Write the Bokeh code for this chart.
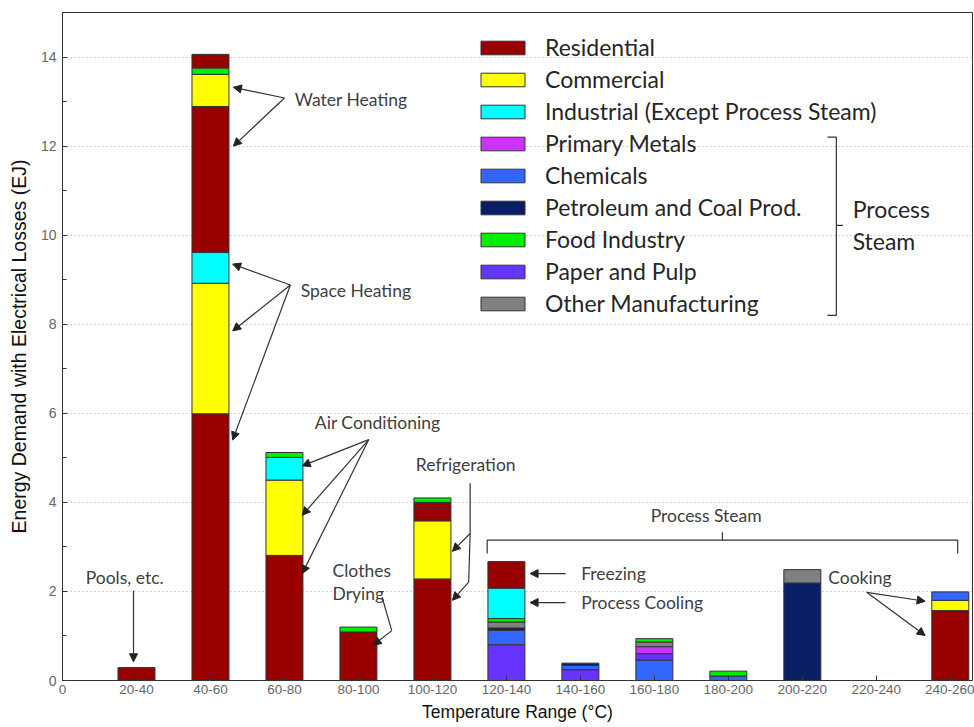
from bokeh.plotting import figure
from bokeh.models import (ColumnDataSource, FixedTicker, Legend, LegendItem,
                          Arrow, NormalHead, Range1d)
from bokeh.core.properties import value
from bokeh.embed import file_html
from bokeh.resources import INLINE

# temperature bins (x axis ticks 0..12)
tick_labels = ["0", "20-40", "40-60", "60-80", "80-100", "100-120", "120-140",
               "140-160", "160-180", "180-200", "200-220", "220-240", "240-260"]

# sectors, legend order
sector_codes = ["RES", "COM", "IND", "MET", "CHE", "PET", "FOD", "PAP", "OTH"]
sector_names = ["Residential", "Commercial", "Industrial (Except Process Steam)",
                "Primary Metals", "Chemicals", "Petroleum and Coal Prod.",
                "Food Industry", "Paper and Pulp", "Other Manufacturing"]
sector_colors = ["#990000", "#ffff00", "#00ffff", "#cc33ff", "#3366ff",
                 "#0a1f66", "#00ee00", "#6633ff", "#808080"]

# stacked segments (EJ), bottom to top within each bin
seg_bin = ["20-40",
           "40-60", "40-60", "40-60", "40-60", "40-60", "40-60", "40-60",
           "60-80", "60-80", "60-80", "60-80",
           "80-100", "80-100",
           "100-120", "100-120", "100-120", "100-120", "100-120",
           "120-140", "120-140", "120-140", "120-140", "120-140", "120-140", "120-140",
           "140-160", "140-160", "140-160",
           "160-180", "160-180", "160-180", "160-180", "160-180",
           "180-200", "180-200",
           "200-220", "200-220",
           "240-260", "240-260", "240-260"]
seg_sector = ["RES",
              "RES", "COM", "IND", "RES", "COM", "FOD", "RES",
              "RES", "COM", "IND", "FOD",
              "RES", "FOD",
              "RES", "COM", "RES", "RES", "FOD",
              "PAP", "CHE", "PET", "OTH", "FOD", "IND", "RES",
              "PAP", "CHE", "PET",
              "CHE", "PAP", "MET", "OTH", "FOD",
              "CHE", "FOD",
              "PET", "OTH",
              "RES", "COM", "CHE"]
seg_value = [0.29,
             5.99, 2.93, 0.69, 3.28, 0.72, 0.14, 0.31,
             2.81, 1.69, 0.51, 0.11,
             1.09, 0.11,
             2.28, 1.30, 0.30, 0.12, 0.10,
             0.80, 0.33, 0.05, 0.13, 0.08, 0.68, 0.60,
             0.24, 0.10, 0.05,
             0.46, 0.14, 0.16, 0.10, 0.08,
             0.10, 0.11,
             2.19, 0.30,
             1.57, 0.23, 0.19]

# stack the segments
stack_top = {}
seg_x, seg_bottom, seg_top = [], [], []
for b, v in zip(seg_bin, seg_value):
    base = stack_top.get(b, 0.0)
    seg_x.append(tick_labels.index(b))
    seg_bottom.append(base)
    seg_top.append(base + v)
    stack_top[b] = base + v

p = figure(width=974, height=727, x_range=Range1d(0, 12.3), y_range=Range1d(0, 15),
           output_backend="svg", toolbar_location=None,
           min_border_left=62, min_border_right=2, min_border_top=12, min_border_bottom=47)
p.background_fill_color = "white"
p.outline_line_color = "#333333"

renderers = []
for code, color in zip(sector_codes, sector_colors):
    idx = [i for i, s in enumerate(seg_sector) if s == code]
    src = ColumnDataSource(dict(x=[seg_x[i] for i in idx],
                                bottom=[seg_bottom[i] for i in idx],
                                top=[seg_top[i] for i in idx]))
    r = p.vbar(x="x", bottom="bottom", top="top", width=0.5, source=src,
               fill_color=color, line_color="#333333", line_width=1)
    renderers.append(r)

# axes
p.xaxis.ticker = FixedTicker(ticks=list(range(len(tick_labels))))
p.xaxis.major_label_overrides = {i: t for i, t in enumerate(tick_labels)}
p.yaxis.ticker = FixedTicker(ticks=list(range(0, 15, 2)), minor_ticks=list(range(1, 15, 2)))
for ax in (p.xaxis, p.yaxis):
    ax.axis_line_color = "#333333"
    ax.major_tick_line_color = "#333333"
    ax.minor_tick_line_color = "#333333"
    ax.major_tick_in = 5
    ax.major_tick_out = 0
    ax.minor_tick_in = 4
    ax.minor_tick_out = 0
    ax.major_label_text_font = "Liberation Sans"
    ax.major_label_text_color = "#666666"
    ax.axis_label_text_font = "Liberation Sans"
    ax.axis_label_text_font_style = "normal"
    ax.axis_label_text_color = "#111111"
p.xaxis.major_label_text_font_size = "13.5px"
p.yaxis.major_label_text_font_size = "14px"
p.xaxis.major_label_standoff = 4
p.xaxis.axis_label_standoff = 5
p.yaxis.major_label_standoff = 6
p.yaxis.axis_label_standoff = 8
p.xaxis.axis_label = "Temperature Range (°C)"
p.xaxis.axis_label_text_font_size = "17.5px"
p.yaxis.axis_label = "Energy Demand with Electrical Losses (EJ)"
p.yaxis.axis_label_text_font_size = "19.5px"

p.xgrid.grid_line_color = None
p.ygrid.grid_line_color = "#aaaaaa"
p.ygrid.grid_line_dash = "1 3"
p.ygrid.grid_line_width = 1

# legend (location = bottom-left corner, measured from the frame's bottom-left)
legend = Legend(items=[LegendItem(label=n, renderers=[r]) for n, r in zip(sector_names, renderers)],
                location=(413, 363), orientation="vertical",
                label_text_font="Lato", label_text_font_size="23px", label_text_color="#262626",
                glyph_width=55, glyph_height=17, label_height=28, spacing=4,
                label_standoff=15, padding=0, margin=0,
                background_fill_alpha=0, border_line_alpha=0)
p.add_layout(legend)

# brace grouping the process-steam sectors
p.multi_line(xs=[[10.34, 10.46, 10.46, 10.34], [10.46, 10.55]],
             ys=[[12.2, 12.2, 8.2, 8.2], [10.22, 10.22]],
             line_color="#333333", line_width=1.2)
p.text(x=[10.68, 10.68], y=[10.58, 9.87], text=["Process", "Steam"],
       text_font=value("Lato"), text_font_size="23px", text_color="#262626",
       text_baseline="middle", text_align="left")

# process steam bracket over the upper bins
p.multi_line(xs=[[5.74, 5.74, 12.1, 12.1], [8.92, 8.92]],
             ys=[[2.85, 3.15, 3.15, 2.85], [3.15, 3.33]],
             line_color="#333333", line_width=1.2)

# end-use annotations
ann_x = [0.84, 3.14, 3.22, 4.26, 3.65, 3.65, 5.45, 8.7, 7.01, 7.01, 10.35]
ann_y = [2.31, 13.05, 8.76, 5.8, 2.47, 1.96, 4.85, 3.71, 2.4, 1.75, 2.31]
ann_text = ["Pools, etc.", "Water Heating", "Space Heating", "Air Conditioning",
            "Clothes", "Drying", "Refrigeration", "Process Steam", "Freezing",
            "Process Cooling", "Cooking"]
ann_align = ["center", "left", "left", "center", "left", "left", "center",
             "center", "left", "left", "left"]
p.text(x=ann_x, y=ann_y, text=ann_text, text_align=ann_align,
       text_font=value("Lato"), text_font_size="17.5px", text_color="#404040",
       text_baseline="middle")

# leader lines without heads
p.multi_line(xs=[[4.32, 4.45], [5.51, 5.51, 5.49]],
             ys=[[1.87, 1.12], [4.43, 3.3, 2.21]],
             line_color="#333333", line_width=1.2)

# arrows pointing at the bar segments
arr = ColumnDataSource(dict(
    x0=[0.96, 3.0, 3.0, 3.08, 3.08, 3.08, 4.14, 4.14, 4.14, 4.45, 5.51, 5.49, 6.8, 6.8, 10.87, 10.87],
    y0=[2.02, 13.08, 13.08, 8.88, 8.88, 8.88, 5.41, 5.41, 5.41, 1.12, 3.3, 2.21, 2.4, 1.75, 1.98, 1.98],
    x1=[0.96, 2.31, 2.31, 2.3, 2.3, 2.3, 3.24, 3.24, 3.24, 4.2, 5.27, 5.27, 6.32, 6.32, 11.66, 11.66],
    y1=[0.42, 13.32, 12.0, 9.35, 7.85, 5.4, 4.82, 3.71, 2.4, 0.79, 2.9, 1.8, 2.4, 1.75, 1.78, 1.01],
))
p.add_layout(Arrow(source=arr, x_start="x0", y_start="y0", x_end="x1", y_end="y1",
                   line_color="#333333", line_width=1.2,
                   end=NormalHead(size=8, fill_color="#222222", line_color="#222222")))

open("out.html", "w").write(file_html(p, INLINE))
